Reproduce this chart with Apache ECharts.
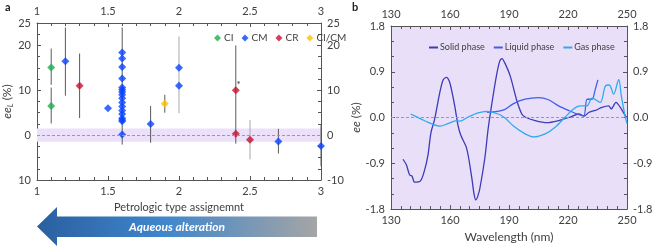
<!DOCTYPE html>
<html>
<head>
<meta charset="utf-8">
<script src="https://cdn.jsdelivr.net/npm/echarts@6/dist/echarts.min.js"></script>
<style>
  html, body { margin: 0; padding: 0; background: #fff; }
  #chart { width: 672px; height: 248px; }
</style>
</head>
<body>
<div id="chart"></div>
<script>
// panel a: ee_L vs petrologic type
const ciX = [1.1, 1.1]
const ciY = [15.1, 6.5]
const cmX = [1.2, 1.5, 1.6, 1.6, 1.6, 1.6, 1.6, 1.6, 1.6, 1.6, 1.6, 1.6, 1.6, 1.6, 1.6, 1.6, 1.6, 1.6, 1.6, 1.8, 2.0, 2.0, 2.7, 3.0]
const cmY = [16.5, 6.0, 18.4, 17.1, 15.2, 12.6, 10.6, 10.1, 9.6, 9.0, 8.2, 7.3, 6.4, 5.5, 4.7, 3.75, 3.4, 3.1, 0.15, 2.5, 15.0, 11.0, -1.4, -2.4]
const crX = [1.3, 2.4, 2.4, 2.5]
const crY = [11.0, 10.0, 0.3, -1.0]
const cicmX = [1.9]
const cicmY = [7.0]

// error bars (dark and light grey)
const barX = [1.1, 1.1, 1.2, 1.3, 1.6, 1.8, 1.9, 2.4, 2.7, 3.0]
const barLow = [11.2, 2.6, 8.8, 3.8, -2.1, -1.7, 5.0, -1.9, -4.1, -6.9]
const barHigh = [19.3, 10.6, 24.0, 18.2, 24.0, 6.5, 9.0, 20.0, 1.4, 2.2]
const lightBarX = [2.0, 2.5]
const lightBarLow = [4.9, -5.4]
const lightBarHigh = [22.0, 3.4]

// panel b: ee spectra
const solidNm = [136.1, 137.8, 139.5, 140.7, 142, 144.9, 147.1, 148.8, 150.3, 152.2, 154.8, 156.5, 158.2, 159.6, 160.7, 162.4, 164.1, 165.5, 168.5, 171.1, 172.2, 173.1, 174.1, 175.2, 177.7, 179.4, 181.1, 183.6, 185.2, 186.4, 187.8, 190.6, 194, 196.5, 198.2, 203.3, 209.3, 215.2, 221.1, 225.4, 228.3, 230.5, 233.9, 237.3, 240.7, 242, 244.4, 246.6, 249.1, 250]
const solidEe = [-0.82, -0.93, -1.13, -1.15, -1.27, -1.25, -1.03, -0.74, -0.3, -0.03, 0.49, 0.74, 0.79, 0.72, 0.56, 0.23, -0.16, -0.35, -0.61, -1.19, -1.5, -1.62, -1.55, -1.39, -0.8, -0.22, 0.23, 0.82, 1.1, 1.16, 1.08, 0.82, 0.33, 0.07, 0.01, -0.06, -0.1, -0.06, 0.01, 0.07, 0.03, 0.1, 0.14, 0.2, 0.23, 0.17, 0.3, 0.2, 0.04, 0.0]
const liquidNm = [178.7, 181, 184, 188, 192.1, 198.2, 205, 210.1, 215.2, 220.3, 224.6, 228, 229.7, 232.2, 233.9, 235.2]
const liquidEe = [0.1, 0.11, 0.12, 0.16, 0.27, 0.36, 0.39, 0.35, 0.23, 0.14, 0.07, 0.03, 0.36, 0.36, 0.56, 0.74]
const gasNm = [140, 145.4, 150.5, 154.8, 159, 163.3, 165, 169.2, 174.3, 178.5, 184.5, 188, 192.1, 198.2, 202.5, 208.4, 213.5, 218.6, 222.8, 226.2, 229.7, 232.2, 236.4, 239, 241, 243.2, 245.8, 247.1, 248.8, 250]
const gasEe = [0.07, -0.03, -0.12, -0.17, -0.12, -0.06, -0.07, 0.01, 0.09, 0.12, 0.07, -0.01, -0.16, -0.32, -0.38, -0.32, -0.19, 0.01, 0.17, 0.23, 0.23, 0.38, 0.3, 0.62, 0.64, 0.46, 0.75, 0.43, 0.07, -0.12]

const zip = (xs, ys) => xs.map((x, i) => [x, ys[i]])
const bars = (xs, lo, hi) => xs.map((x, i) => [x, lo[i], hi[i]])

const FONT = "Lato"
const AX = "#555"
const LBL = "#404040"

const chart = echarts.init(document.getElementById("chart"))

const errorBar = (color) => (params, api) => {
  const a = api.coord([api.value(0), api.value(1)])
  const b = api.coord([api.value(0), api.value(2)])
  return { type: "line", shape: { x1: a[0], y1: a[1], x2: b[0], y2: b[1] }, style: { stroke: color, lineWidth: 1 } }
}

const axisBase = {
  axisLine: { show: true, onZero: false, lineStyle: { color: AX } },
  axisTick: { show: true, inside: true, length: 4, lineStyle: { color: AX } },
  minorTick: { show: true, length: 3, lineStyle: { color: AX } },
  splitLine: { show: false },
  axisLabel: { color: LBL, fontSize: 11, fontFamily: FONT, margin: 6 },
}

const xA = (grid, pos, min, max, interval, split) => ({
  ...axisBase, type: "value", gridIndex: grid, position: pos, min, max, interval,
  minorTick: { ...axisBase.minorTick, splitNumber: split },
})
const yA = (grid, pos, min, max, interval, split, fmt) => ({
  ...axisBase, type: "value", gridIndex: grid, position: pos, min, max, interval,
  minorTick: { ...axisBase.minorTick, splitNumber: split },
  axisLabel: { ...axisBase.axisLabel, formatter: fmt },
})

const lineSeries = (name, data, color) => ({
  name, type: "line", xAxisIndex: 2, yAxisIndex: 2, data, smooth: 0.3,
  showSymbol: false, lineStyle: { color, width: 1.3 }, itemStyle: { color }, z: 3,
})

const dot = (name, data, color) => ({
  name, type: "scatter", xAxisIndex: 0, yAxisIndex: 0, data,
  symbol: "diamond", symbolSize: 8, itemStyle: { color }, z: 4,
})

chart.setOption({
  animation: false,
  textStyle: { fontFamily: FONT },
  grid: [
    { left: 37, right: 351, top: 23, bottom: 68 },
    { left: 391, right: 45, top: 26, bottom: 37, show: true, backgroundColor: "#eadff8", borderWidth: 0 },
  ],
  xAxis: [
    { ...xA(0, "bottom", 1, 3, 0.5, 5), name: "Petrologic type assignemnt", nameLocation: "middle", nameGap: 20,
      nameTextStyle: { color: LBL, fontSize: 11, fontFamily: FONT } },
    xA(0, "top", 1, 3, 0.5, 5),
    { ...xA(1, "bottom", 130, 250, 30, 6), name: "Wavelength (nm)", nameLocation: "middle", nameGap: 20,
      nameTextStyle: { color: LBL, fontSize: 12, fontFamily: FONT } },
    xA(1, "top", 130, 250, 30, 6),
  ],
  yAxis: [
    { ...yA(0, "left", -10, 25, 10, 4, (v) => String(Math.abs(v))), name: "{i|ee}{s|L} (%)",
      nameLocation: "middle", nameGap: 22,
      nameTextStyle: { color: LBL, fontSize: 12, fontFamily: FONT,
        rich: { i: { fontStyle: "italic", fontSize: 12, fontFamily: FONT, color: LBL },
                s: { fontStyle: "italic", fontSize: 8, fontFamily: FONT, color: LBL, verticalAlign: "bottom", padding: [6, 0, 0, 0] } } } },
    yA(0, "right", -10, 25, 10, 4, (v) => String(v)),
    { ...yA(1, "left", -1.8, 1.8, 0.9, 3, (v) => v.toFixed(1)), name: "{i|ee} (%)",
      nameLocation: "middle", nameGap: 26,
      nameTextStyle: { color: LBL, fontSize: 12, fontFamily: FONT,
        rich: { i: { fontStyle: "italic", fontSize: 12, fontFamily: FONT, color: LBL } } } },
    yA(1, "right", -1.8, 1.8, 0.9, 3, (v) => v.toFixed(1)),
  ],
  legend: [
    { data: ["CI", "CM", "CR", "CI/CM"], left: 209, top: 28, icon: "diamond", itemWidth: 7, itemHeight: 7,
      itemGap: 8, textStyle: { color: LBL, fontSize: 10, fontFamily: FONT, padding: [0, 0, 0, -2] } },
    { data: ["Solid phase", "Liquid phase", "Gas phase"], left: 424, top: 38, icon: "rect", itemWidth: 9, itemHeight: 2,
      itemGap: 9, textStyle: { color: LBL, fontSize: 9, fontFamily: FONT, padding: [0, 0, 0, -3] } },
  ],
  series: [
    {
      type: "line", xAxisIndex: 0, yAxisIndex: 0, data: [], silent: true,
      markArea: { silent: true, itemStyle: { color: "#ece0fa" }, data: [[{ yAxis: -1.5 }, { yAxis: 1.5 }]] },
      markLine: { silent: true, symbol: "none", label: { show: false },
        lineStyle: { color: "#a58fb8", type: [3, 2], width: 1 }, data: [{ yAxis: 0 }] },
    },
    { type: "custom", xAxisIndex: 0, yAxisIndex: 0, data: bars(barX, barLow, barHigh), renderItem: errorBar("#5a5a5a"), z: 2, silent: true },
    { type: "custom", xAxisIndex: 0, yAxisIndex: 0, data: bars(lightBarX, lightBarLow, lightBarHigh), renderItem: errorBar("#a8a8a8"), z: 2, silent: true },
    dot("CI", zip(ciX, ciY), "#1fae4f"),
    dot("CM", zip(cmX, cmY), "#0a44ff"),
    { ...dot("CR", zip(crX, crY), "#c8102e"),
      markPoint: { symbolSize: 0, data: [{ coord: [2.42, 11.2] }],
        label: { show: true, formatter: "*", color: "#333", fontSize: 10, fontFamily: FONT, position: "inside" } } },
    dot("CI/CM", zip(cicmX, cicmY), "#ffc000"),

    {
      type: "line", xAxisIndex: 2, yAxisIndex: 2, data: [], silent: true,
      markLine: { silent: true, symbol: "none", label: { show: false },
        lineStyle: { color: "#a58fb8", type: [3, 2], width: 1 }, data: [{ yAxis: 0 }] },
    },
    lineSeries("Solid phase", zip(solidNm, solidEe), "#3a3cb8"),
    lineSeries("Liquid phase", zip(liquidNm, liquidEe), "#3f5fe8"),
    lineSeries("Gas phase", zip(gasNm, gasEe), "#2eaaee"),
  ],
  graphic: [
    { type: "text", left: 5, top: 2, style: { text: "a", font: "bold 11px Lato", fill: "#222" } },
    { type: "text", left: 352, top: 2, style: { text: "b", font: "bold 11px Lato", fill: "#222" } },
    {
      type: "polygon",
      shape: { points: [[37, 226.5], [57, 207], [57, 216.5], [317, 216.5], [317, 237], [57, 237], [57, 246]] },
      style: { fill: new echarts.graphic.LinearGradient(0, 0, 1, 0, [
        { offset: 0, color: "#2a5f9f" }, { offset: 0.45, color: "#3f86cc" }, { offset: 1, color: "#a5a5a5" },
      ]) },
    },
    { type: "text", x: 177, y: 227, style: { text: "Aqueous alteration", font: "italic bold 12px Lato", fill: "#fff", align: "center", verticalAlign: "middle" } },
  ],
})
</script>
</body>
</html>
